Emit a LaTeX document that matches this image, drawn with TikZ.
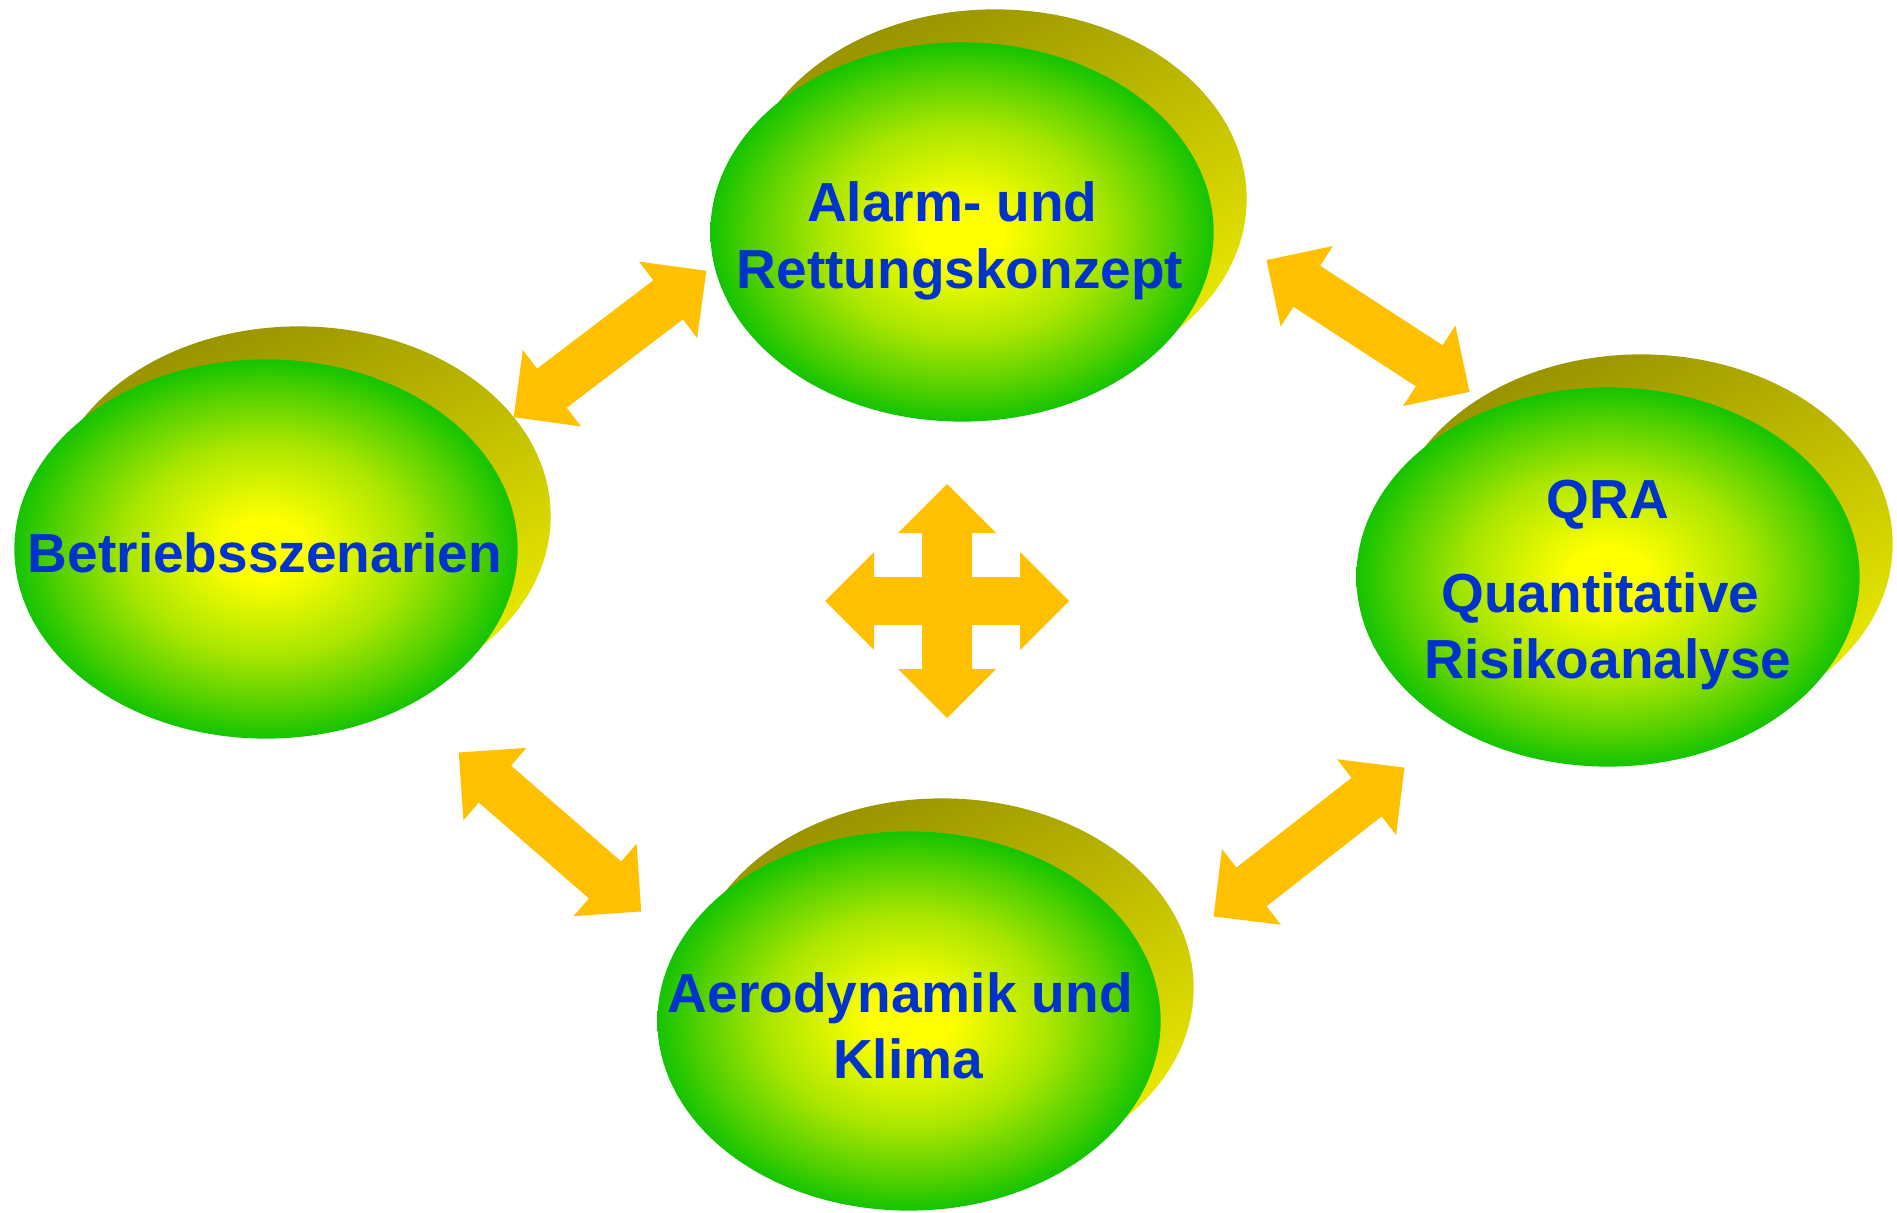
\documentclass[tikz,border=0pt]{standalone}
\usepackage{fontspec}
\setmainfont{Liberation Sans}
\usepackage{tikz}
\usetikzlibrary{shapes.geometric,shadows}
\usepackage{xcolor}
\definecolor{ballgreen}{RGB}{20,196,0}
\definecolor{ballmid}{RGB}{170,230,0}
\definecolor{ballouter}{RGB}{80,208,0}
\definecolor{ballyellow}{RGB}{255,255,0}
\definecolor{rimdark}{RGB}{152,146,0}
\definecolor{rimlight}{RGB}{236,236,0}
\definecolor{arrowgold}{RGB}{255,192,0}
\definecolor{labelblue}{RGB}{0,51,204}
\pgfdeclareradialshading{ballshade}{\pgfpoint{0bp}{0bp}}{color(0bp)=(ballyellow); color(4bp)=(ballyellow); color(14bp)=(ballmid); color(21bp)=(ballouter); color(25bp)=(ballgreen); color(50bp)=(ballgreen)}
\newcommand\tailsp{\kern0.278em}

\begin{document}
\begin{tikzpicture}[
x=0.01cm,y=-0.01cm,
blob/.style={ellipse,minimum width=5.03cm,minimum height=3.79cm,inner sep=0pt,shade,shading=ballshade,
  general shadow={shadow xshift=0.33cm,shadow yshift=0.33cm,top color=rimdark,bottom color=rimlight,shading angle=25}},
txt/.style={align=center,text=labelblue,inner sep=0pt,font=\fontsize{15.65}{18.9}\selectfont\bfseries},
twoway/.pic={\fill[arrowgold] (-121,0) -- (-73,48) -- (-73,24.5) -- (73,24.5) -- (73,48) -- (121,0)
  -- (73,-48) -- (73,-24.5) -- (-73,-24.5) -- (-73,-48) -- cycle;},
fourway/.pic={\fill[arrowgold] (0,-117) -- (49,-68) -- (25,-68) -- (25,-24) -- (73,-24) -- (73,-49) -- (122,0)
  -- (73,49) -- (73,24) -- (25,24) -- (25,68) -- (49,68) -- (0,117) -- (-49,68) -- (-25,68) -- (-25,24)
  -- (-73,24) -- (-73,49) -- (-122,0) -- (-73,-49) -- (-73,-24) -- (-25,-24) -- (-25,-68) -- (-49,-68) -- cycle;}
]
\useasboundingbox (0,0) rectangle (1897,1212);

\node[blob] (alarm) at (962,232) {};
\node[blob] (betrieb) at (266,549) {};
\node[blob] (qra) at (1608,577) {};
\node[blob] (aero) at (909,1021) {};

\node[txt] (alarmtxt) at (960,241) {Alarm- und\tailsp\\Rettungskonzept};
\node[txt] (betriebtxt) at (265,553) {Betriebsszenarien};
\node[txt] (qratxt) at (1608,585) {QRA\\[7.9pt]Quantitative\tailsp\\Risikoanalyse};
\node[txt] (aerotxt) at (908,1026) {Aerodynamik und\tailsp\\Klima};

\pic[rotate=37.25] at (610,344) {twoway};
\pic[rotate=-33] at (1368,326) {twoway};
\pic[rotate=-41.05] at (550,832) {twoway};
\pic[rotate=37.95] at (1309,842) {twoway};
\pic at (947,601) {fourway};
\end{tikzpicture}
\end{document}
